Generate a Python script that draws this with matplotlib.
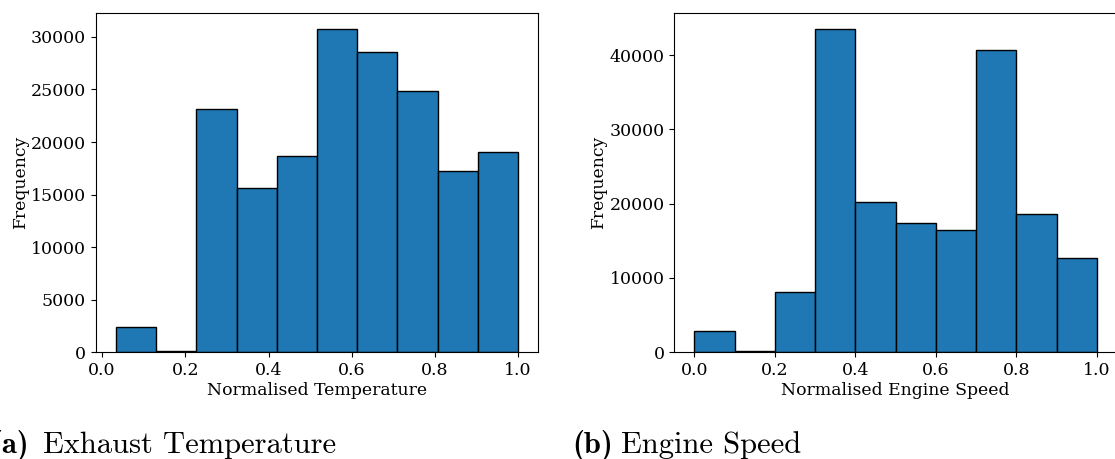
import numpy as np
import matplotlib
matplotlib.use("Agg")
import matplotlib.pyplot as plt

# ---- data ----
temp_range = (0.033, 1.0)
temp_counts = [2390, 90, 23140, 15650, 18630, 30770, 28580, 24880, 17240, 19080]

speed_range = (0.0, 1.0)
speed_counts = [2880, 130, 8090, 43550, 20230, 17440, 16400, 40670, 18560, 12670]

xlabels = ["Normalised Temperature", "Normalised Engine Speed"]
ylabel = "Frequency"
caption_tags = ["(a)", "(b)"]
caption_texts = ["Exhaust Temperature", "Engine Speed"]
xticks = [0.0, 0.2, 0.4, 0.6, 0.8, 1.0]

plt.rcParams["font.family"] = "DejaVu Serif"

W, H = 1115, 459
fig = plt.figure(figsize=(W / 100, H / 100), dpi=100)

ax_w = 442.6 / W
ax_h = (352.2 - 12.7) / H
ax_y = 1 - 352.2 / H
axes = [fig.add_axes([95.7 / W, ax_y, ax_w, ax_h]),
        fig.add_axes([674.3 / W, ax_y, ax_w, ax_h])]

for ax, rng, counts, xl in zip(axes, [temp_range, speed_range],
                               [temp_counts, speed_counts], xlabels):
    edges = np.linspace(rng[0], rng[1], len(counts) + 1)
    centers = (edges[:-1] + edges[1:]) / 2
    ax.hist(centers, bins=edges, weights=counts, color="#1f77b4",
            edgecolor="black", linewidth=1.0)
    ax.set_xticks(xticks)
    ax.set_xlabel(xl, fontsize=12.4, labelpad=2)
    ax.set_ylabel(ylabel, fontsize=12.4, labelpad=1.5)
    ax.tick_params(labelsize=12.5)

cap_y = 1 - 453 / H
tag_x = [-10 / W, 572 / W]
txt_x = [43 / W, 621 / W]
for tag, txt, tx, cx in zip(caption_tags, caption_texts, tag_x, txt_x):
    fig.text(tx, cap_y, tag, fontsize=22, family="cmb10",
             va="baseline", ha="left")
    fig.text(cx, cap_y, txt, fontsize=22, family="cmr10",
             va="baseline", ha="left")

fig.savefig("out.png", dpi=100)
